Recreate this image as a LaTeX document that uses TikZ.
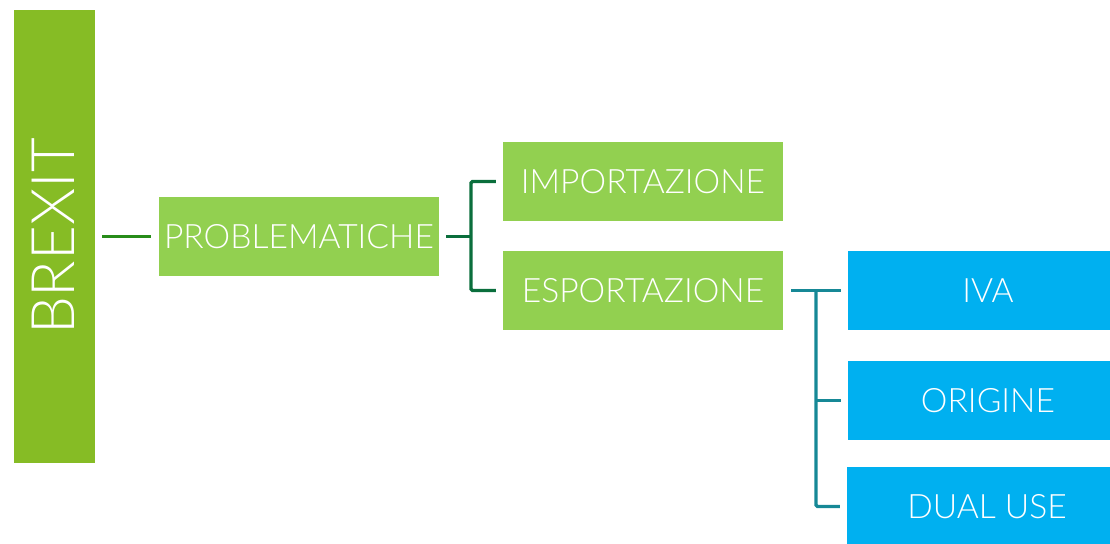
\documentclass[tikz,border=0pt]{standalone}
\usepackage{fontspec}
\setmainfont{Lato}[UprightFont=* Light]
\definecolor{brexitgreen}{RGB}{134,188,37}
\definecolor{boxgreen}{RGB}{146,208,80}
\definecolor{boxblue}{RGB}{0,176,240}
\definecolor{linkgreen}{RGB}{40,140,25}
\definecolor{linkdark}{RGB}{10,110,60}
\definecolor{linkteal}{RGB}{22,136,150}
\begin{document}
\begin{tikzpicture}[x=1pt,y=-1pt,
  box/.style={rectangle, inner sep=0pt, minimum width=280pt, minimum height=79pt,
    text=white, font=\fontsize{33.6}{40}\selectfont},
  greenbox/.style={box, fill=boxgreen},
  bluebox/.style={box, fill=boxblue},
  link/.style={line width=3.2pt},
]
\useasboundingbox (0,0) rectangle (1110,543);
\clip (0,0) rectangle (1110,543);

% root
\node[rectangle, inner sep=0pt, fill=brexitgreen, minimum width=81pt, minimum height=453pt,
  text=white, font=\fontsize{60}{66}\selectfont] (brexit) at (54.5,236.5)
  {\rotatebox{90}{BREXIT}\hspace*{2pt}};

% level 1 and 2
\node[greenbox] (prob) at (299,236.5) {PROBLEMATICHE};
\node[greenbox] (imp) at (643,181.5) {IMPORTAZIONE};
\node[greenbox] (esp) at (643,290.5) {ESPORTAZIONE};

% level 3
\node[bluebox] (iva) at (988,290.5) {IVA};
\node[bluebox] (ori) at (988,400.5) {ORIGINE};
\node[bluebox] (dual) at (987,506.5) {DUAL USE};

% connectors
\draw[link, linkgreen] ([xshift=7pt]brexit.east) -- ([xshift=-8pt]prob.west);

\coordinate (j1) at (471,236.5);
\draw[link, linkdark] ([xshift=7pt]prob.east) -- (j1);
\draw[link, linkdark, rounded corners=1.5pt]
  ([xshift=-7pt]imp.west) -| (j1) |- ([xshift=-7pt]esp.west);

\coordinate (j2) at (816,290.5);
\draw[link, linkteal] ([xshift=8pt]esp.east) -- ([xshift=-7pt]iva.west);
\draw[link, linkteal, rounded corners=1.5pt] (j2) |- ([xshift=-7pt]dual.west);
\draw[link, linkteal] (j2 |- ori.west) -- ([xshift=-7pt]ori.west);
\end{tikzpicture}
\end{document}
